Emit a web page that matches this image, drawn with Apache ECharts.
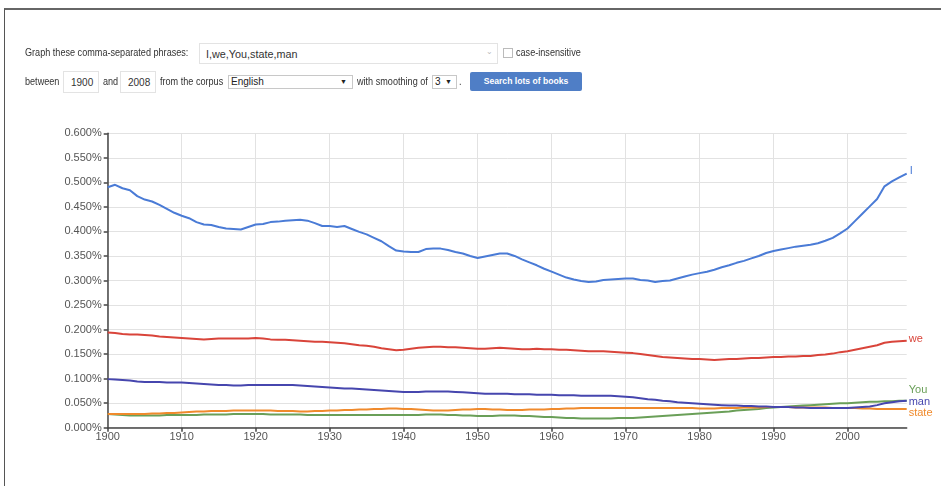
<!DOCTYPE html>
<html>
<head>
<meta charset="utf-8">
<script src="https://cdn.jsdelivr.net/npm/echarts@6/dist/echarts.min.js"></script>
<style>
  html, body { margin: 0; padding: 0; width: 941px; height: 486px; background: #fff; overflow: hidden; }
  body { position: relative; font-family: "Liberation Sans", Arial, sans-serif; color: #333; }
  #frame { position: absolute; left: 4px; top: 8px; width: 940px; height: 480px; border-top: 2px solid #666; border-left: 1.5px solid #555; box-sizing: border-box; }
  #chart { position: absolute; left: 0; top: 0; width: 941px; height: 486px; }
  .t { position: absolute; font-size: 10px; line-height: 12px; color: #333; white-space: nowrap; z-index: 2; transform: scaleX(0.91); transform-origin: 0 50%; }
  .box { position: absolute; border: 1px solid #e3e3e3; box-sizing: border-box; font-size: 10px; color: #333; background: #fff; z-index: 2; white-space: nowrap; }
  .sel { position: absolute; border: 1px solid #c8c8c8; box-sizing: border-box; font-size: 10px; color: #222; background: #fff; z-index: 2; white-space: nowrap; }
  .btn { position: absolute; background: #4f7ec6; color: #fff; font-weight: bold; font-size: 8.6px; text-align: center; border-radius: 2px; z-index: 2; }
</style>
</head>
<body>
<div id="frame"></div>
<div id="chart"></div>

<div class="t" style="left:25px;top:47px;">Graph these comma-separated phrases:</div>
<div class="box" style="left:199px;top:43px;width:299px;height:21px;padding:4px 0 0 6px;font-size:10.8px;">I,we,You,state,man<span style="position:absolute;left:286px;top:3px;color:#bbb;font-size:8px;">&#8964;</span></div>
<div class="box" style="left:503px;top:48px;width:10px;height:10px;border-color:#bbb;"></div>
<div class="t" style="left:516px;top:47px;">case-insensitive</div>

<div class="t" style="left:25px;top:76px;">between</div>
<div class="box" style="left:63px;top:71px;width:36px;height:22px;padding:5px 0 0 7px;">1900</div>
<div class="t" style="left:103px;top:76px;">and</div>
<div class="box" style="left:120px;top:71px;width:36px;height:22px;padding:5px 0 0 7px;">2008</div>
<div class="t" style="left:160px;top:76px;">from the corpus</div>
<div class="sel" style="left:228px;top:75px;width:125px;height:14px;padding:0 0 0 2px;line-height:12px;">English<span style="position:absolute;right:5px;top:0;font-size:7px;">&#9660;</span></div>
<div class="t" style="left:357px;top:76px;">with smoothing of</div>
<div class="sel" style="left:432px;top:75px;width:25px;height:14px;padding:0 0 0 2px;line-height:12px;">3<span style="position:absolute;right:4px;top:0;font-size:7px;">&#9660;</span></div>
<div class="t" style="left:459px;top:76px;">.</div>
<div class="btn" style="left:470px;top:72px;width:112px;height:19px;line-height:19px;">Search lots of books</div>

<script>
var years = [];
for (var y = 1900; y <= 2008; y++) years.push(String(y));

var seriesNames = ["I", "we", "You", "state", "man"];
var seriesColors = ["#4a7bd6", "#d9443a", "#6a9f58", "#f08a2c", "#4646ae"];

var dataI = [
0.490,0.495,0.488,0.484,0.472,0.465,0.461,0.454,0.446,0.438,
0.432,0.427,0.419,0.414,0.413,0.409,0.406,0.405,0.404,0.409,
0.414,0.415,0.419,0.420,0.422,0.423,0.424,0.422,0.417,0.411,
0.411,0.409,0.411,0.405,0.399,0.394,0.387,0.380,0.370,0.361,
0.359,0.358,0.358,0.364,0.365,0.365,0.362,0.358,0.355,0.350,
0.346,0.349,0.352,0.355,0.355,0.350,0.343,0.337,0.331,0.324,
0.318,0.312,0.306,0.302,0.299,0.297,0.298,0.301,0.302,0.303,
0.304,0.304,0.301,0.300,0.297,0.299,0.300,0.304,0.308,0.312,
0.315,0.318,0.322,0.327,0.331,0.336,0.340,0.345,0.350,0.356,
0.360,0.363,0.366,0.369,0.371,0.373,0.376,0.381,0.387,0.396,
0.406,0.421,0.436,0.451,0.466,0.492,0.502,0.510,0.518];

var dataWe = [
0.194,0.193,0.191,0.190,0.190,0.189,0.188,0.186,0.185,0.184,
0.183,0.182,0.181,0.180,0.181,0.182,0.182,0.182,0.182,0.182,
0.183,0.182,0.180,0.179,0.179,0.178,0.177,0.176,0.175,0.175,
0.174,0.173,0.172,0.170,0.168,0.167,0.165,0.162,0.160,0.158,
0.159,0.161,0.163,0.164,0.165,0.165,0.164,0.164,0.163,0.162,
0.161,0.161,0.162,0.163,0.162,0.161,0.160,0.160,0.161,0.160,
0.160,0.159,0.159,0.158,0.157,0.156,0.156,0.156,0.155,0.154,
0.153,0.152,0.150,0.148,0.146,0.144,0.143,0.142,0.141,0.140,
0.140,0.139,0.138,0.139,0.140,0.140,0.141,0.142,0.142,0.143,
0.144,0.144,0.145,0.145,0.146,0.146,0.148,0.149,0.151,0.154,
0.156,0.159,0.162,0.165,0.168,0.173,0.175,0.176,0.177];

var dataYou = [
0.028,0.027,0.026,0.025,0.025,0.025,0.025,0.025,0.026,0.026,
0.026,0.026,0.026,0.027,0.027,0.027,0.027,0.028,0.028,0.028,
0.028,0.028,0.027,0.027,0.027,0.027,0.027,0.026,0.026,0.026,
0.026,0.026,0.026,0.026,0.026,0.026,0.026,0.026,0.026,0.026,
0.026,0.026,0.026,0.027,0.027,0.027,0.026,0.026,0.025,0.025,
0.024,0.024,0.024,0.025,0.025,0.025,0.024,0.024,0.023,0.022,
0.022,0.021,0.020,0.020,0.019,0.019,0.019,0.019,0.019,0.020,
0.020,0.020,0.021,0.022,0.023,0.024,0.025,0.026,0.027,0.028,
0.029,0.030,0.031,0.032,0.033,0.035,0.036,0.037,0.038,0.040,
0.041,0.042,0.043,0.044,0.045,0.046,0.047,0.048,0.049,0.050,
0.050,0.051,0.052,0.053,0.053,0.054,0.054,0.055,0.055];

var dataState = [
0.028,0.028,0.028,0.028,0.028,0.028,0.029,0.029,0.030,0.030,
0.031,0.032,0.033,0.033,0.034,0.034,0.034,0.035,0.035,0.035,
0.035,0.035,0.035,0.034,0.034,0.034,0.033,0.033,0.034,0.034,
0.035,0.035,0.036,0.036,0.037,0.037,0.038,0.038,0.039,0.039,
0.038,0.038,0.037,0.036,0.035,0.035,0.035,0.036,0.037,0.037,
0.038,0.038,0.037,0.037,0.036,0.036,0.036,0.037,0.037,0.037,
0.038,0.038,0.039,0.039,0.040,0.040,0.040,0.040,0.040,0.040,
0.040,0.040,0.040,0.040,0.040,0.040,0.040,0.040,0.040,0.040,
0.039,0.039,0.039,0.040,0.040,0.040,0.041,0.041,0.041,0.042,
0.042,0.042,0.042,0.041,0.041,0.041,0.041,0.041,0.040,0.040,
0.040,0.040,0.039,0.039,0.038,0.038,0.038,0.038,0.038];

var dataMan = [
0.099,0.098,0.097,0.096,0.094,0.093,0.093,0.093,0.092,0.092,
0.092,0.091,0.090,0.089,0.088,0.087,0.087,0.086,0.086,0.087,
0.087,0.087,0.087,0.087,0.087,0.087,0.086,0.085,0.084,0.083,
0.082,0.081,0.080,0.080,0.079,0.078,0.077,0.076,0.075,0.074,
0.073,0.073,0.073,0.074,0.074,0.074,0.074,0.073,0.072,0.071,
0.070,0.069,0.069,0.069,0.069,0.068,0.068,0.068,0.067,0.067,
0.067,0.066,0.066,0.066,0.065,0.065,0.065,0.065,0.065,0.064,
0.063,0.062,0.060,0.058,0.057,0.055,0.054,0.052,0.051,0.050,
0.049,0.048,0.047,0.046,0.045,0.045,0.044,0.044,0.043,0.043,
0.042,0.042,0.042,0.041,0.041,0.040,0.040,0.040,0.040,0.040,
0.040,0.041,0.042,0.043,0.046,0.050,0.052,0.054,0.055];

var allData = [dataI, dataWe, dataYou, dataState, dataMan];
var labelOffsets = [[-5, -3], [-6, -2], [-6, -11], [-6, 4], [-6, 1]];

var chart = echarts.init(document.getElementById('chart'), null, { renderer: 'canvas' });

var series = seriesNames.map(function (name, i) {
  return {
    name: name,
    type: 'line',
    data: allData[i],
    showSymbol: false,
    smooth: false,
    z: i === 4 ? 3 : 2,
    lineStyle: { color: seriesColors[i], width: 2 },
    itemStyle: { color: seriesColors[i] },
    endLabel: {
      show: true,
      formatter: '{a}',
      color: seriesColors[i],
      fontSize: 11,
      fontFamily: 'Liberation Sans, Arial, sans-serif',
      offset: labelOffsets[i]
    },
    emphasis: { disabled: true }
  };
});

chart.setOption({
  animation: false,
  backgroundColor: 'transparent',
  textStyle: { fontFamily: 'Liberation Sans, Arial, sans-serif' },
  grid: { left: 107.7, right: 34.3, top: 133.3, bottom: 58.3, containLabel: false },
  xAxis: {
    type: 'category',
    data: years,
    boundaryGap: false,
    axisLine: { show: true, lineStyle: { color: '#444', width: 1.5 } },
    axisTick: { show: true, length: 4, lineStyle: { color: '#444', width: 1.5 },
      interval: function (idx, val) { return Number(val) % 10 === 0; } },
    axisLabel: { color: '#555', fontSize: 11, margin: 4,
      interval: function (idx, val) { return Number(val) % 10 === 0; } },
    splitLine: { show: true, lineStyle: { color: '#e2e2e2', width: 1 },
      interval: function (idx, val) { return Number(val) % 10 === 0; } }
  },
  yAxis: {
    type: 'value',
    min: 0,
    max: 0.6,
    interval: 0.05,
    axisLine: { show: true, lineStyle: { color: '#444', width: 1.5 } },
    axisTick: { show: true, length: 4, lineStyle: { color: '#444', width: 1.5 } },
    axisLabel: { color: '#555', fontSize: 11, margin: 6,
      formatter: function (v) { return v.toFixed(3) + '%'; } },
    splitLine: { show: true, lineStyle: { color: '#e2e2e2', width: 1 } }
  },
  series: series
});
</script>
</body>
</html>
